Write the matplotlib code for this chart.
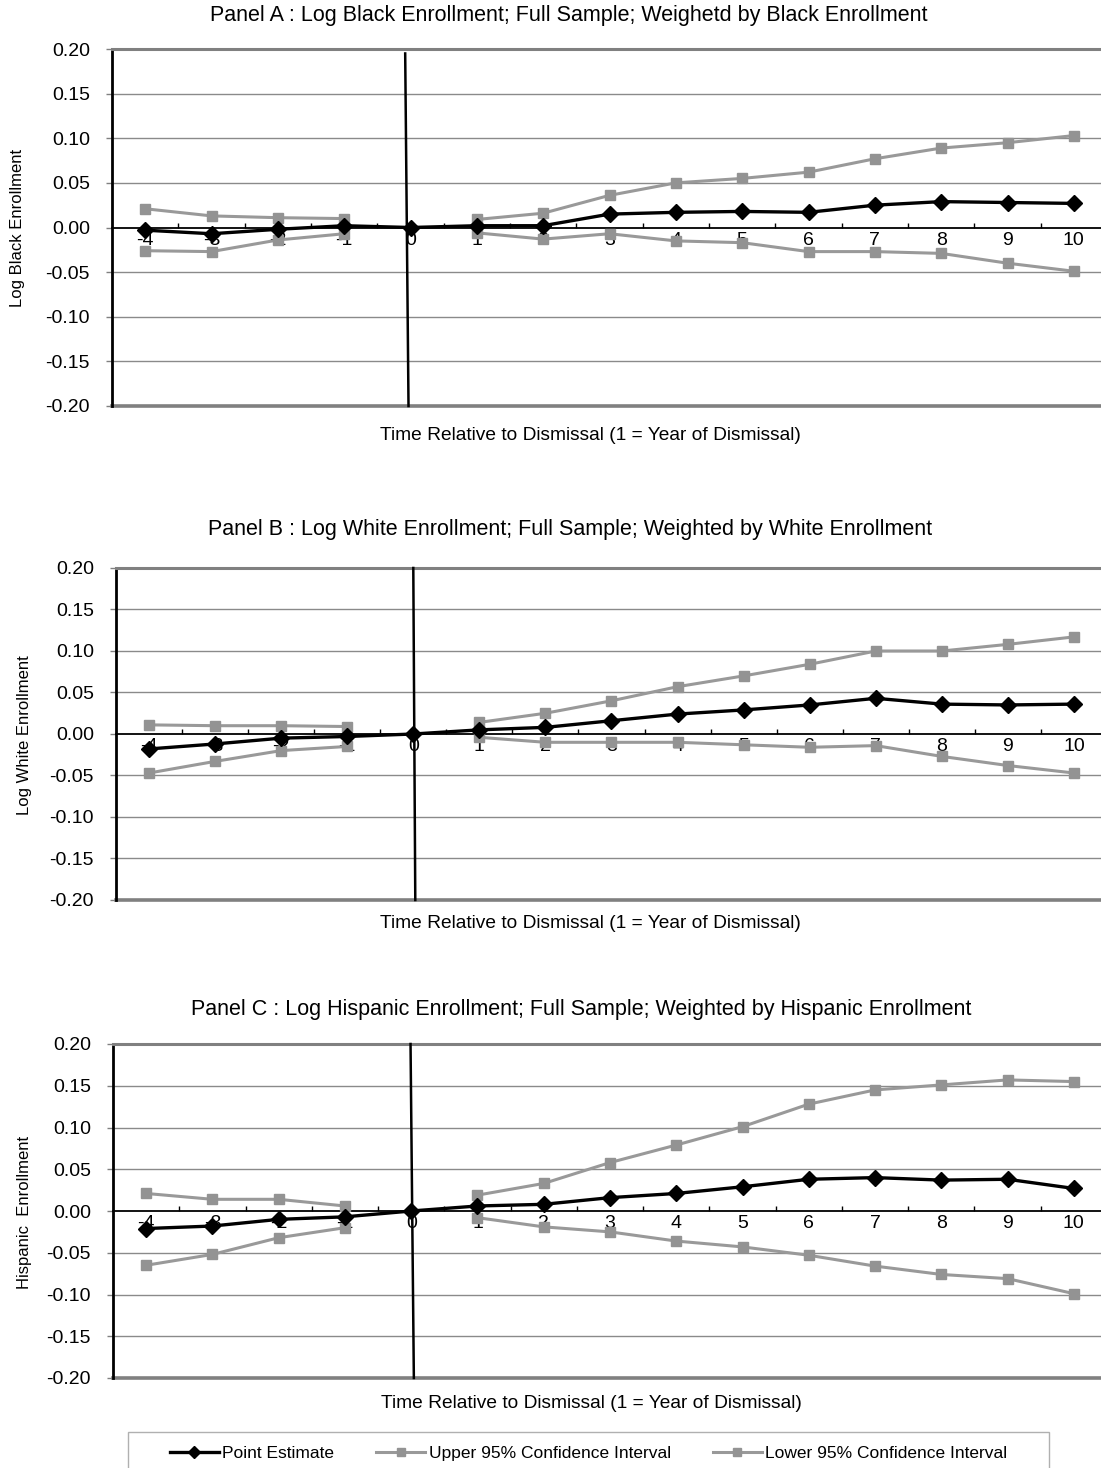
import matplotlib
matplotlib.use("Agg")
import matplotlib.pyplot as plt
from matplotlib.ticker import FixedLocator, FuncFormatter
from matplotlib.lines import Line2D
from matplotlib.patches import Rectangle

plt.rcParams['font.family'] = ['Liberation Sans', 'DejaVu Sans']
plt.rcParams['axes.unicode_minus'] = False

years = [-4, -3, -2, -1, 0, 1, 2, 3, 4, 5, 6, 7, 8, 9, 10]
ci_years_pre = [-4, -3, -2, -1]
ci_years_post = [1, 2, 3, 4, 5, 6, 7, 8, 9, 10]

# Panel A: Log Black Enrollment
a_point = [-0.003, -0.007, -0.002, 0.002, 0.0, 0.002, 0.002, 0.015, 0.017, 0.018, 0.017, 0.025, 0.029, 0.028, 0.027]
a_upper_pre = [0.021, 0.013, 0.011, 0.010]
a_upper_post = [0.009, 0.016, 0.036, 0.050, 0.055, 0.062, 0.077, 0.089, 0.095, 0.103]
a_lower_pre = [-0.026, -0.027, -0.014, -0.007]
a_lower_post = [-0.006, -0.013, -0.007, -0.015, -0.017, -0.027, -0.027, -0.029, -0.040, -0.049]

# Panel B: Log White Enrollment
b_point = [-0.018, -0.012, -0.005, -0.003, 0.0, 0.005, 0.008, 0.016, 0.024, 0.029, 0.035, 0.043, 0.036, 0.035, 0.036]
b_upper_pre = [0.011, 0.010, 0.010, 0.009]
b_upper_post = [0.014, 0.025, 0.040, 0.057, 0.070, 0.084, 0.100, 0.100, 0.108, 0.117]
b_lower_pre = [-0.047, -0.033, -0.020, -0.015]
b_lower_post = [-0.004, -0.010, -0.010, -0.010, -0.013, -0.016, -0.014, -0.027, -0.038, -0.047]

# Panel C: Log Hispanic Enrollment
c_point = [-0.021, -0.018, -0.010, -0.007, 0.0, 0.006, 0.008, 0.016, 0.021, 0.029, 0.038, 0.040, 0.037, 0.038, 0.027]
c_upper_pre = [0.021, 0.014, 0.014, 0.006]
c_upper_post = [0.019, 0.033, 0.058, 0.079, 0.101, 0.128, 0.145, 0.151, 0.157, 0.155]
c_lower_pre = [-0.065, -0.052, -0.032, -0.020]
c_lower_post = [-0.008, -0.019, -0.025, -0.036, -0.043, -0.053, -0.066, -0.076, -0.081, -0.099]

titles = [
    "Panel A : Log Black Enrollment; Full Sample; Weighetd by Black Enrollment",
    "Panel B : Log White Enrollment; Full Sample; Weighted by White Enrollment",
    "Panel C : Log Hispanic Enrollment; Full Sample; Weighted by Hispanic Enrollment",
]
ylabels = ["Log Black Enrollment", "Log White Enrollment", "Hispanic  Enrollment"]
xlabel = "Time Relative to Dismissal (1 = Year of Dismissal)"
yticks = [-0.20, -0.15, -0.10, -0.05, 0.00, 0.05, 0.10, 0.15, 0.20]
legend_labels = ["Point Estimate", "Upper 95% Confidence Interval", "Lower 95% Confidence Interval"]

# vertical dismissal line (slightly hand-drawn in original): (x_top, y_top, x_bottom)
vlines = [(-0.08, 0.195, -0.03), (0.0, 0.20, 0.03), (-0.01, 0.20, 0.04)]

W, H = 1101, 1468
fig = plt.figure(figsize=(W / 100, H / 100), dpi=100)

def fx(px):
    return px / W

def fy(py):
    return 1 - py / H

# pixel layouts: left, right, top, bottom, title center x,y, xlabel center x,y, ylabel x,y
layouts = [
    dict(l=112, r=1107, t=49, b=406, tx=569, ty=15, xx=590, xy=436, yx=18, yy=228),
    dict(l=116, r=1107, t=568, b=900, tx=570, ty=529, xx=590, xy=923, yx=25, yy=735),
    dict(l=113, r=1107, t=1044, b=1378, tx=581, ty=1009, xx=591, xy=1403, yx=25, yy=1212),
]

data = [
    (a_point, a_upper_pre, a_upper_post, a_lower_pre, a_lower_post),
    (b_point, b_upper_pre, b_upper_post, b_lower_pre, b_lower_post),
    (c_point, c_upper_pre, c_upper_post, c_lower_pre, c_lower_post),
]

ci_color = '#999999'
ci_mcolor = '#939393'
grid_color = '#8a8a8a'
border_color = '#808080'
TICK_FS = 14
TITLE_FS = 15.5
XLAB_FS = 13.8
YLAB_FS = 12
LEG_FS = 12.5

for i, lay in enumerate(layouts):
    ax = fig.add_axes([fx(lay['l']), fy(lay['b']), fx(lay['r'] - lay['l']), (lay['b'] - lay['t']) / H])
    ax.set_xlim(-4.5, 10.5)
    ax.set_ylim(-0.20, 0.20)
    pt, up_pre, up_post, lo_pre, lo_post = data[i]

    for yv in yticks[1:-1]:
        if abs(yv) > 1e-9:
            ax.axhline(yv, color=grid_color, lw=1.0, zorder=1)

    for xs, ys in [(ci_years_pre, up_pre), (ci_years_post, up_post),
                   (ci_years_pre, lo_pre), (ci_years_post, lo_post)]:
        ax.plot(xs, ys, color=ci_color, lw=2.2, marker='s', ms=6.5,
                mfc=ci_mcolor, mec=ci_mcolor, zorder=3)
    ax.plot(years, pt, color='black', lw=2.4, marker='D', ms=8.5, mfc='black', mec='black', zorder=4)

    x_top, y_top, x_bot = vlines[i]
    ax.plot([x_top, x_bot], [y_top, -0.20], color='black', lw=1.8, zorder=5, clip_on=False)

    # spines
    ax.spines['bottom'].set_position(('data', 0))
    ax.spines['bottom'].set_color('black')
    ax.spines['bottom'].set_linewidth(1.3)
    ax.spines['left'].set_color('black')
    ax.spines['left'].set_linewidth(2.0)
    ax.spines['top'].set_color(border_color)
    ax.spines['top'].set_linewidth(2.2)
    ax.spines['right'].set_visible(False)
    ax.axhline(-0.20, color=border_color, lw=2.6, zorder=2, clip_on=False)

    ax.xaxis.set_major_locator(FixedLocator(years))
    ax.set_xticklabels([str(y) for y in years], fontsize=TICK_FS)
    ax.tick_params(axis='x', which='major', length=0, pad=3)
    ax.xaxis.set_minor_locator(FixedLocator([y + 0.5 for y in years[:-1]]))
    ax.tick_params(axis='x', which='minor', direction='in', length=3.8, width=1, color='black')

    ax.yaxis.set_major_locator(FixedLocator(yticks))
    ax.yaxis.set_major_formatter(FuncFormatter(lambda v, p: "%.2f" % v))
    ax.tick_params(axis='y', which='major', direction='out', length=4.5, width=1,
                   color=border_color, labelsize=TICK_FS, pad=11.5)

    fig.text(fx(lay['tx']), fy(lay['ty']), titles[i], ha='center', va='center', fontsize=TITLE_FS)
    fig.text(fx(lay['xx']), fy(lay['xy']), xlabel, ha='center', va='center', fontsize=XLAB_FS)
    fig.text(fx(lay['yx']), fy(lay['yy']), ylabels[i], ha='center', va='center',
             rotation=90, fontsize=YLAB_FS)

# legend frame (bottom edge runs off the figure as in the original)
frame = Rectangle((fx(128), fy(1490)), fx(1049 - 128), (1490 - 1432) / H,
                  transform=fig.transFigure, facecolor='white', edgecolor='#b0b0b0',
                  lw=1.0, clip_on=False)
fig.patches.append(frame)

handles = [
    Line2D([], [], color='black', lw=2.4, marker='D', ms=6.5, mfc='black', mec='black'),
    Line2D([], [], color=ci_color, lw=2.2, marker='s', ms=5.5, mfc=ci_mcolor, mec=ci_mcolor),
    Line2D([], [], color=ci_color, lw=2.2, marker='s', ms=5.5, mfc=ci_mcolor, mec=ci_mcolor),
]
leg = fig.legend(handles, legend_labels, loc='center left',
                 bbox_to_anchor=(fx(170), fy(1453)), ncol=3, fontsize=LEG_FS,
                 frameon=False, handlelength=2.82, handletextpad=0.2,
                 borderaxespad=0, borderpad=0, columnspacing=2.42)

fig.savefig("out.png", dpi=100)
